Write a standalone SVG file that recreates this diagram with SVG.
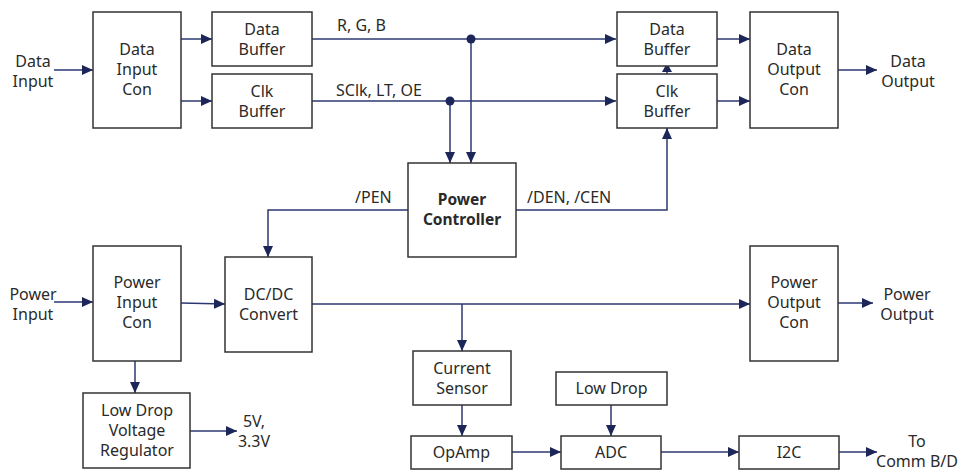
<svg xmlns="http://www.w3.org/2000/svg" width="962" height="472" viewBox="0 0 962 472">
  <defs>
    <marker id="arr" markerUnits="userSpaceOnUse" markerWidth="11" markerHeight="10" refX="11" refY="5" orient="auto">
      <path d="M0,0 L11,5 L0,10 z" fill="#1c2659"/>
    </marker>
  </defs>
  <style>
    .box { fill: #ffffff; stroke: #333333; stroke-width: 1.5; }
    .t { font-family: "Noto Sans", "Open Sans", sans-serif; font-size: 16px; fill: #2a2a2a; text-anchor: middle; }
    .l { font-family: "Noto Sans", "Open Sans", sans-serif; font-size: 16px; fill: #2a2a2a; }
    .b { font-weight: bold; font-size: 15.5px; }
    .w { fill: none; stroke: #2b3870; stroke-width: 1.5; }
    .a { marker-end: url(#arr); }
    .dot { fill: #1c2659; }
  </style>
  <rect width="962" height="472" fill="#ffffff"/>

  <!-- connectors -->
  <g id="connectors">
    <path class="w a" d="M54,70 H93"/>
    <path class="w a" d="M181,39 H212"/>
    <path class="w a" d="M181,101 H212"/>
    <path class="w a" d="M312,39 H616"/>
    <path class="w a" d="M312,101 H616"/>
    <path class="w a" d="M450,101 V163"/>
    <path class="w a" d="M471,39 V163"/>
    <circle class="dot" cx="471" cy="39" r="4.5"/>
    <circle class="dot" cx="450" cy="101" r="4.5"/>
    <path class="w a" d="M717,39 H750"/>
    <path class="w a" d="M717,101 H750"/>
    <path class="w" d="M667,74 V70"/>
    <path d="M662,72 L667,63 L672,72 z" fill="#1c2659"/>
    <path class="w a" d="M838,70 H877"/>
    <path class="w a" d="M408,210 H268 V257"/>
    <path class="w a" d="M516,210 H667 V128"/>
    <path class="w a" d="M54,302 H93"/>
    <path class="w a" d="M181,303 L225,304"/>
    <path class="w a" d="M312,304 H750"/>
    <path class="w a" d="M462,304 V351"/>
    <path class="w a" d="M838,303 H873"/>
    <path class="w a" d="M135,361 V393"/>
    <path class="w a" d="M190,431 H237"/>
    <path class="w a" d="M462,405 V436"/>
    <path class="w a" d="M611,405 V436"/>
    <path class="w a" d="M512,452 H561"/>
    <path class="w a" d="M661,452 H739"/>
    <path class="w a" d="M839,452 H877"/>
  </g>

  <!-- signal labels -->
  <g id="labels">
    <text class="t" x="33" y="67">Data</text>
    <text class="t" x="33" y="87">Input</text>
    <text class="l" x="337" y="31">R, G, B</text>
    <text class="l" x="336" y="96">SClk, LT, OE</text>
    <text class="l" x="355" y="203">/PEN</text>
    <text class="l" x="527" y="203">/DEN, /CEN</text>
    <text class="t" x="908" y="67">Data</text>
    <text class="t" x="908" y="87">Output</text>
    <text class="t" x="33" y="300">Power</text>
    <text class="t" x="33" y="320">Input</text>
    <text class="t" x="907" y="300">Power</text>
    <text class="t" x="907" y="320">Output</text>
    <text class="t" x="254" y="427">5V,</text>
    <text class="t" x="254" y="447">3.3V</text>
    <text class="t" x="917" y="447">To</text>
    <text class="t" x="917" y="467">Comm B/D</text>
  </g>

  <g id="data-input-con">
    <rect class="box" x="93" y="12" width="88" height="116"/>
    <text class="t" x="137" y="55">Data</text>
    <text class="t" x="137" y="75">Input</text>
    <text class="t" x="137" y="95">Con</text>
  </g>
  <g id="data-buffer-in">
    <rect class="box" x="212" y="12" width="100" height="54"/>
    <text class="t" x="262" y="35">Data</text>
    <text class="t" x="262" y="55">Buffer</text>
  </g>
  <g id="clk-buffer-in">
    <rect class="box" x="212" y="74" width="100" height="54"/>
    <text class="t" x="262" y="97">Clk</text>
    <text class="t" x="262" y="117">Buffer</text>
  </g>
  <g id="data-buffer-out">
    <rect class="box" x="617" y="12" width="100" height="54"/>
    <text class="t" x="667" y="35">Data</text>
    <text class="t" x="667" y="55">Buffer</text>
  </g>
  <g id="clk-buffer-out">
    <rect class="box" x="617" y="74" width="100" height="54"/>
    <text class="t" x="667" y="97">Clk</text>
    <text class="t" x="667" y="117">Buffer</text>
  </g>
  <g id="data-output-con">
    <rect class="box" x="750" y="12" width="88" height="116"/>
    <text class="t" x="794" y="55">Data</text>
    <text class="t" x="794" y="75">Output</text>
    <text class="t" x="794" y="95">Con</text>
  </g>
  <g id="power-controller">
    <rect class="box" x="408" y="163" width="108" height="94"/>
    <text class="t b" x="462" y="205">Power</text>
    <text class="t b" x="462" y="225">Controller</text>
  </g>
  <g id="power-input-con">
    <rect class="box" x="93" y="246" width="88" height="115"/>
    <text class="t" x="137" y="288">Power</text>
    <text class="t" x="137" y="308">Input</text>
    <text class="t" x="137" y="328">Con</text>
  </g>
  <g id="dcdc-convert">
    <rect class="box" x="225" y="257" width="87" height="95"/>
    <text class="t" x="268.5" y="300">DC/DC</text>
    <text class="t" x="268.5" y="320">Convert</text>
  </g>
  <g id="power-output-con">
    <rect class="box" x="750" y="246" width="88" height="115"/>
    <text class="t" x="794" y="288">Power</text>
    <text class="t" x="794" y="308">Output</text>
    <text class="t" x="794" y="328">Con</text>
  </g>
  <g id="ldo-regulator">
    <rect class="box" x="83" y="393" width="107" height="75"/>
    <text class="t" x="137" y="416">Low Drop</text>
    <text class="t" x="137" y="436">Voltage</text>
    <text class="t" x="137" y="456">Regulator</text>
  </g>
  <g id="current-sensor">
    <rect class="box" x="413" y="351" width="98" height="54"/>
    <text class="t" x="462" y="374">Current</text>
    <text class="t" x="462" y="394">Sensor</text>
  </g>
  <g id="opamp">
    <rect class="box" x="411" y="436" width="101" height="33"/>
    <text class="t" x="461.5" y="458">OpAmp</text>
  </g>
  <g id="low-drop">
    <rect class="box" x="556" y="372" width="111" height="33"/>
    <text class="t" x="611.5" y="394">Low Drop</text>
  </g>
  <g id="adc">
    <rect class="box" x="561" y="436" width="100" height="33"/>
    <text class="t" x="611" y="458">ADC</text>
  </g>
  <g id="i2c">
    <rect class="box" x="739" y="436" width="100" height="33"/>
    <text class="t" x="789" y="458">I2C</text>
  </g>
</svg>
